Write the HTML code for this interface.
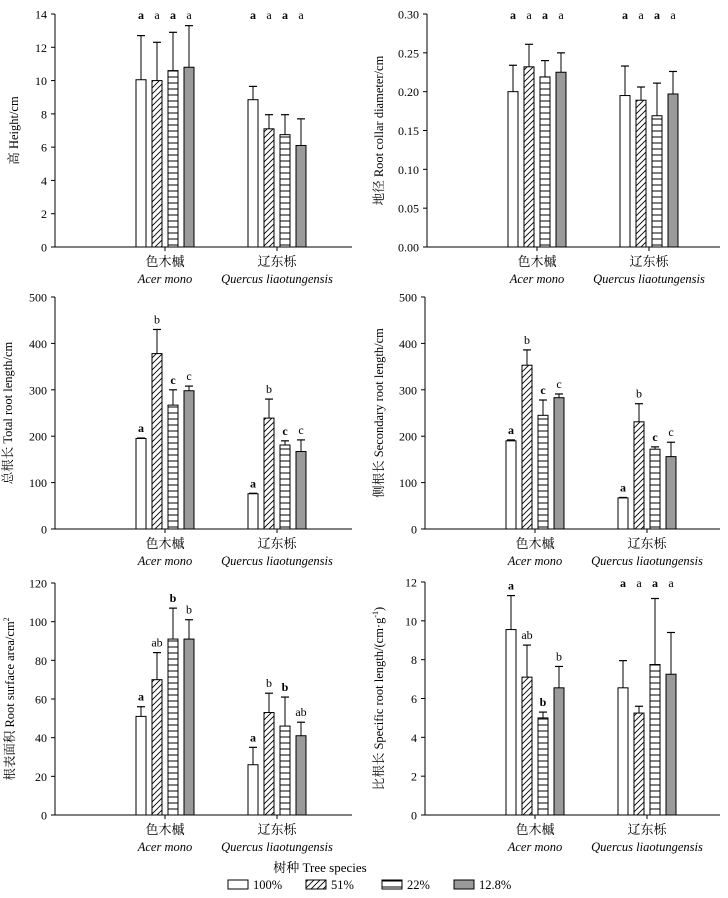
<!DOCTYPE html>
<html><head><meta charset="utf-8">
<style>
html,body{margin:0;padding:0;background:#fff;}
svg{display:block;font-family:"Liberation Serif","Noto Serif CJK SC",serif;}
</style></head>
<body>
<svg id="fig" width="728" height="898" viewBox="0 0 728 898" xmlns="http://www.w3.org/2000/svg">
<defs>
<pattern id="diag" patternUnits="userSpaceOnUse" width="6" height="6"><rect width="6" height="6" fill="#fff"/><path d="M-1,7 L7,-1 M-4,4 L4,-4 M2,10 L10,2" stroke="#000" stroke-width="0.9"/></pattern>
<pattern id="horiz" patternUnits="userSpaceOnUse" width="10" height="6"><rect width="10" height="6" fill="#fff"/><path d="M0,5 L10,5" stroke="#000" stroke-width="1"/></pattern>
</defs>
</svg>
<script>
const groups = ["色木槭","辽东栎"];
const groupsLatin = ["Acer mono","Quercus liaotungensis"];
const seriesNames = ["100%","51%","22%","12.8%"];
const heightMean = [[10.05,10.0,10.6,10.8],[8.85,7.1,6.75,6.1]];
const heightErr = [[12.7,12.3,12.9,13.3],[9.65,7.95,7.95,7.7]];
const heightLetters = [["a","a","a","a"],["a","a","a","a"]];
const heightTicks = [0,2,4,6,8,10,12,14];
const rcdMean = [[0.200,0.232,0.219,0.225],[0.195,0.189,0.169,0.197]];
const rcdErr = [[0.234,0.261,0.240,0.250],[0.233,0.206,0.211,0.226]];
const rcdLetters = [["a","a","a","a"],["a","a","a","a"]];
const rcdTicks = [0,0.05,0.10,0.15,0.20,0.25,0.30];
const rcdTickLabels = ["0.00","0.05","0.10","0.15","0.20","0.25","0.30"];
const trlMean = [[195,378,267,298],[76,239,181,167]];
const trlErr = [[196,430,300,308],[77,280,190,192]];
const trlLetters = [["a","b","c","c"],["a","b","c","c"]];
const trlTicks = [0,100,200,300,400,500];
const srlMean = [[190,353,245,283],[67,231,172,156]];
const srlErr = [[192,386,278,291],[68,270,177,187]];
const srlLetters = [["a","b","c","c"],["a","b","c","c"]];
const srlTicks = [0,100,200,300,400,500];
const rsaMean = [[51,70,91,91],[26,53,46,41]];
const rsaErr = [[56,84,107,101],[35,63,61,48]];
const rsaLetters = [["a","ab","b","b"],["a","b","b","ab"]];
const rsaTicks = [0,20,40,60,80,100,120];
const spMean = [[9.55,7.1,5.0,6.55],[6.55,5.25,7.75,7.25]];
const spErr = [[11.3,8.75,5.3,7.65],[7.95,5.6,11.15,9.4]];
const spLetters = [["a","ab","b","b"],["a","a","a","a"]];
const spTicks = [0,2,4,6,8,10,12];

const NS="http://www.w3.org/2000/svg";
const svg=document.getElementById('fig');
const fills=["#fff","url(#diag)","url(#horiz)","#9a9a9a"];
function mk(tag,attrs,parent){const e=document.createElementNS(NS,tag);for(const k in attrs)e.setAttribute(k,attrs[k]);(parent||svg).appendChild(e);return e;}

function panel(p){
  const g=mk('g',{});
  
  
  const y=v=>p.y0-(v-p.min)/(p.max-p.min)*(p.y0-p.yTop);
  const ya=mk('line',{x1:p.ax,y1:p.yTop,x2:p.ax,y2:p.y0,stroke:'#000','stroke-width':1},g);
  
  
  const xa=mk('line',{x1:p.ax,y1:p.y0,x2:p.xEnd,y2:p.y0,stroke:'#000','stroke-width':1},g);
  
  
  p.ticks.forEach((t,i)=>{
    mk('line',{x1:p.ax-4,y1:y(t),x2:p.ax,y2:y(t),stroke:'#000'},g);
    const tx=mk('text',{x:p.ax-8,y:y(t)+4.5,'text-anchor':'end','font-size':12},g);
    tx.textContent=p.tickLabels?p.tickLabels[i]:String(t);
    
    
  });
  const gOff=[110,222];
  for(let gi=0;gi<2;gi++){
    const cx=p.ax+gOff[gi];
    mk('line',{x1:cx,y1:p.y0,x2:cx,y2:p.y0+4,stroke:'#000'},g);
    const l1=mk('text',{x:cx,y:p.y0+19,'text-anchor':'middle','font-size':13},g);
    l1.textContent=groups[gi];
    
    
    const l2=mk('text',{x:cx,y:p.y0+36,'text-anchor':'middle','font-size':12.5,'font-style':'italic','font-family':'"Liberation Serif",serif'},g);
    l2.textContent=groupsLatin[gi];
    
    
    for(let s=0;s<4;s++){
      const bx=cx+(-24+s*16)-5;
      const v=p.mean[gi][s], e=p.err[gi][s];
      const b=mk('rect',{x:bx,y:y(v),width:10,height:p.y0-y(v),fill:fills[s],stroke:'#000','stroke-width':1},g);
      
      
      mk('line',{x1:bx+5,y1:y(v),x2:bx+5,y2:y(e),stroke:'#000'},g);
      mk('line',{x1:bx+1,y1:y(e),x2:bx+9,y2:y(e),stroke:'#000','stroke-width':1.2},g);
      const top=p.letterTop===true||(Array.isArray(p.letterTop)&&p.letterTop[gi]);
      const ly=top?p.yTop+5:Math.max(p.yTop+3,y(e)-6);
      const lt=mk('text',{x:bx+5,y:ly,'text-anchor':'middle','font-size':12,'font-weight':(s%2==0?'bold':'normal')},g);
      lt.textContent=p.letters[gi][s];
      
      
    }
  }
  const ty=(p.yTop+p.y0)/2;
  const tt=mk('text',{x:p.titleX,y:ty,'text-anchor':'middle','font-size':12.5,transform:`rotate(-90 ${p.titleX} ${ty})`},g);
  tt.innerHTML=p.title;
  
  
}
panel({name:'height-chart',ax:55,xEnd:352,y0:247,yTop:14,min:0,max:14,ticks:heightTicks,mean:heightMean,err:heightErr,letters:heightLetters,letterTop:true,titleX:18,title:'高 Height/cm'});
panel({name:'root-collar-chart',ax:427,xEnd:720,y0:247,yTop:14,min:0,max:0.30,ticks:rcdTicks,tickLabels:rcdTickLabels,mean:rcdMean,err:rcdErr,letters:rcdLetters,letterTop:true,titleX:383,title:'地径 Root collar diameter/cm'});
panel({name:'total-root-length-chart',ax:55,xEnd:352,y0:529,yTop:297,min:0,max:500,ticks:trlTicks,mean:trlMean,err:trlErr,letters:trlLetters,titleX:12,title:'总根长 Total root length/cm'});
panel({name:'secondary-root-length-chart',ax:425,xEnd:720,y0:529,yTop:297,min:0,max:500,ticks:srlTicks,mean:srlMean,err:srlErr,letters:srlLetters,titleX:383,title:'侧根长 Secondary root length/cm'});
panel({name:'root-surface-area-chart',ax:55,xEnd:352,y0:815,yTop:583,min:0,max:120,ticks:rsaTicks,mean:rsaMean,err:rsaErr,letters:rsaLetters,titleX:14,title:'根表面积 Root surface area/cm<tspan font-size="8" dy="-5">2</tspan>'});
panel({name:'specific-root-length-chart',ax:425,xEnd:720,y0:815,yTop:582,min:0,max:12,ticks:spTicks,mean:spMean,err:spErr,letters:spLetters,letterTop:[false,true],titleX:383,title:'比根长 Specific root length/(cm·g<tspan font-size="8" dy="-5">-1</tspan><tspan dy="5">)</tspan>'});

const lt=mk('text',{x:320,y:872,'text-anchor':'middle','font-size':13});
lt.textContent='树种 Tree species';


const lx=[228,306,382,454];
seriesNames.forEach((n,i)=>{
  const r=mk('rect',{x:lx[i],y:880,width:20,height:9,fill:fills[i],stroke:'#000'});
  
  
  const t=mk('text',{x:lx[i]+25,y:889,'font-size':12.5});
  t.textContent=n;
  
  
});
</script>
</body></html>
